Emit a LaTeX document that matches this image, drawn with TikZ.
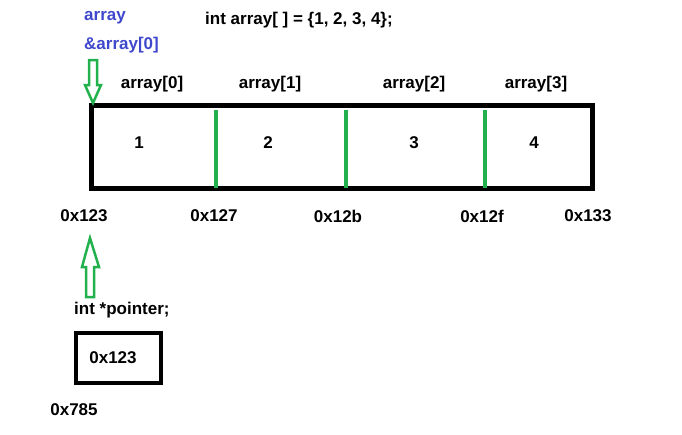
\documentclass[tikz,border=0pt]{standalone}
\usepackage{fontspec}
\setmainfont{Liberation Sans}
\usepackage{xcolor}
\usetikzlibrary{arrows,shapes,calc,positioning}
\definecolor{paintgreen}{RGB}{34,177,76}
\definecolor{ptrblue}{RGB}{63,72,204}
\begin{document}
\begin{tikzpicture}[x=1pt, y=-1pt]
		\tikzstyle{every node}=[font=\fontsize{17}{19}\selectfont\bfseries, inner sep=0pt]
		\tikzstyle{blk}=[line width=5pt, draw=black]
		\tikzstyle{divider}=[line width=4pt, draw=paintgreen]
		\tikzstyle{hollow}=[line width=2.5pt, draw=paintgreen, fill=white, line join=miter]
		\useasboundingbox (0,0) rectangle (682,434);
		\node [anchor=west, text=ptrblue] (name) at (84,18) {array};
		\node [anchor=west, text=ptrblue] (addr) at (84,45) {\&array[0]};
		\node [anchor=west] (decl) at (205,20) {int array[ ] = \{1, 2, 3, 4\};};
		% the array
		\draw [blk] (91,105) rectangle (592,188);
		\coordinate (arr) at (91,105);
		\draw [divider] (216,110) -- (216,188);
		\draw [divider] (346,110) -- (346,188);
		\draw [divider] (485,110) -- (485,188);
		\node (l0) at (152,84) {array[0]};
		\node (l1) at (270,84) {array[1]};
		\node (l2) at (414,84) {array[2]};
		\node (l3) at (536,84) {array[3]};
		\node (v0) at (139,143) {1};
		\node (v1) at (268,143) {2};
		\node (v2) at (414,143) {3};
		\node (v3) at (534,143) {4};
		\node (a0) at (84,216) {0x123};
		\node (a1) at (214,216) {0x127};
		\node (a2) at (338,216) {0x12b};
		\node (a3) at (482,216) {0x12f};
		\node (a4) at (588,216) {0x133};
		% green hollow arrows
		\draw [hollow] (89,60) -- (97,60) -- (97,85) -- (101,85) -- (93,103) -- (85,85) -- (89,85) -- cycle;
		\draw [hollow] (86,297) -- (94,297) -- (94,267) -- (99,267) -- (90,238) -- (82,267) -- (86,267) -- cycle;
		% the pointer
		\node [anchor=west] (ptr) at (74,310) {int *pointer;};
		\draw [line width=4pt] (76,333) rectangle (161,383);
		\node (pv) at (113,358) {0x123};
		\node (pa) at (74,410) {0x785};
\end{tikzpicture}
\end{document}
